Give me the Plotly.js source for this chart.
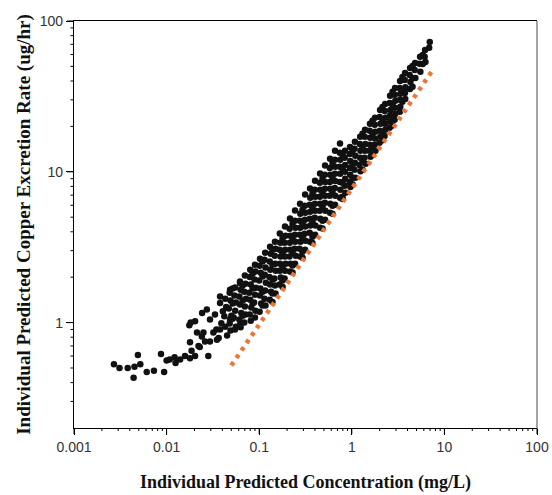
<!DOCTYPE html>
<html>
<head>
<meta charset="utf-8">
<script src="https://cdn.plot.ly/plotly-3.0.1.min.js"></script>
<style>html,body{margin:0;padding:0;background:#fff;}#chart{width:552px;height:495px;}</style>
</head>
<body>
<div id="chart"></div>
<script>
// Individual predicted concentration (mg/L)
const conc = [
  // low tail
  0.0027,0.0031,0.0038,0.0045,0.0049,0.0044,0.0052,0.0061,0.0073,0.0094,0.0087,0.0100,0.0108,0.0122,0.0140,0.0158,0.0179,0.0203,0.0125,0.0186,
  0.0179,0.0221,0.0282,0.0240,0.0294,0.0182,0.0203,0.0242,0.0294,0.0333,0.0250,0.0320,0.0378,0.0350,0.0390,0.0405,0.0378,0.0272,0.0213,0.0228,
  0.0260,0.0365,0.0345,0.0484,0.0548,0.0621,0.0378,0.0484,0.0621,0.0176,
  // main band
  0.043,0.044,0.042,0.043,0.045,
  0.048,0.049,0.047,0.050,0.048,0.049,
  0.055,0.054,0.056,0.055,0.053,0.056,
  0.062,0.063,0.061,0.062,0.064,0.061,0.063,
  0.070,0.071,0.069,0.072,0.070,0.071,0.069,
  0.080,0.079,0.081,0.078,0.080,0.082,0.079,0.081,
  0.090,0.091,0.089,0.092,0.090,0.088,0.091,0.090,
  0.102,0.101,0.104,0.100,0.103,0.102,0.105,0.101,
  0.116,0.114,0.117,0.115,0.118,0.116,0.114,0.117,
  0.131,0.133,0.130,0.132,0.129,0.131,0.134,0.130,
  0.148,0.150,0.147,0.149,0.151,0.146,0.148,0.150,
  0.167,0.169,0.166,0.170,0.168,0.167,0.171,0.166,
  0.190,0.192,0.188,0.191,0.189,0.193,0.190,0.188,
  0.215,0.213,0.217,0.214,0.216,0.212,0.218,0.215,
  0.244,0.242,0.246,0.243,0.245,0.241,0.247,0.244,
  0.276,0.278,0.274,0.277,0.275,0.279,0.273,0.276,
  0.313,0.311,0.315,0.312,0.314,0.310,0.316,0.313,
  0.354,0.356,0.352,0.355,0.353,0.357,0.351,0.354,
  0.401,0.399,0.403,0.400,0.402,0.398,0.404,0.401,
  0.454,0.452,0.456,0.453,0.455,0.451,0.457,0.454,
  0.514,0.511,0.517,0.513,0.516,0.512,0.518,0.514,
  0.582,0.579,0.585,0.580,0.584,0.578,0.586,0.582,
  0.659,0.656,0.662,0.657,0.661,0.655,0.663,0.659,
  0.746,0.742,0.750,0.744,0.748,0.741,0.752,0.746,
  0.845,0.840,0.850,0.843,0.848,0.838,0.852,
  0.957,0.950,0.963,0.955,0.960,0.948,0.965,
  1.08,1.07,1.09,1.08,1.07,1.09,
  1.23,1.22,1.24,1.23,1.21,1.24,
  1.39,1.38,1.40,1.39,1.37,1.41,
  1.57,1.56,1.58,1.57,1.55,1.59,
  1.78,1.77,1.79,1.78,1.76,1.80,
  2.02,2.00,2.04,2.01,2.03,1.99,
  2.29,2.27,2.31,2.28,2.30,2.26,
  2.59,2.57,2.61,2.58,2.60,2.56,
  2.93,2.91,2.95,2.92,2.94,2.90,
  3.32,3.29,3.35,3.31,3.34,3.30,
  3.76,3.73,3.79,3.75,3.78,
  4.26,4.22,4.30,4.24,
  4.82,4.78,4.86,
  5.46,5.40,5.50,
  6.18,6.12,6.24,
  6.95,6.85,
  // points along the lower edge, next to the reference line
  0.139,0.179,0.229,0.294,0.376,0.483,0.619,0.794,1.018,1.305,1.674,2.146,2.752,
  // in-between points of the band
  0.0516,0.0516,0.0516,
  0.0662,0.0662,0.0662,
  0.0849,0.0849,0.0849,
  0.1086,0.1086,0.1086,0.1086,
  0.139,0.139,0.139,0.139,
  0.1785,0.1785,0.1785,0.1785,
  0.229,0.229,0.229,0.229,
  0.2935,0.2935,0.2935,0.2935,
  0.3763,0.3763,0.3763,0.3763,
  0.4827,0.4827,0.4827,0.4827,
  0.619,0.619,0.619,0.619,
  0.7937,0.7937,0.7937,0.7937,
  1.018,1.018,1.018,
  1.305,1.305,1.305,
  1.674,1.674,1.674,
  2.146,2.146,2.146,
  2.752,2.752,2.752,
  3.52,3.52,3.52,
  4.53,4.53,4.53,
  5.84,5.84
];
// Individual predicted copper excretion rate (ug/hr)
const rate = [
  0.53,0.50,0.50,0.51,0.61,0.43,0.53,0.47,0.48,0.47,0.62,0.56,0.57,0.59,0.57,0.60,0.58,0.60,0.54,0.65,
  0.74,0.70,0.60,0.81,0.75,1.00,1.02,1.16,1.05,1.13,0.86,0.86,0.90,0.77,0.99,1.19,1.35,1.22,0.86,0.69,
  0.75,0.79,0.90,1.05,0.90,0.97,1.49,1.65,1.83,0.96,
  1.44,1.27,1.10,0.94,0.82,
  1.58,1.40,1.24,1.11,0.985,0.885,
  1.71,1.51,1.36,1.20,1.08,0.94,
  1.87,1.65,1.49,1.32,1.16,1.05,0.93,
  2.05,1.81,1.60,1.44,1.28,1.13,1.00,
  2.24,2.01,1.79,1.58,1.42,1.26,1.13,1.03,
  2.42,2.18,1.93,1.70,1.53,1.36,1.20,1.08,
  2.65,2.38,2.14,1.90,1.68,1.51,1.34,1.18,
  2.91,2.61,2.32,2.08,1.84,1.63,1.44,1.30,
  3.18,2.86,2.54,2.24,2.01,1.79,1.60,1.42,
  3.44,3.09,2.78,2.46,2.21,1.96,1.76,1.56,
  3.90,3.38,3.04,2.74,2.46,2.21,1.99,1.79,
  4.34,3.77,3.38,3.04,2.74,2.46,2.21,1.96,
  4.90,4.19,3.77,3.38,3.04,2.74,2.46,2.18,
  5.53,4.74,4.26,3.83,3.44,3.09,2.78,2.46,
  6.15,5.27,4.74,4.26,3.83,3.44,3.09,2.74,
  7.08,5.95,5.35,4.81,4.33,3.89,3.49,3.04,
  7.74,6.72,6.04,5.43,4.88,4.40,3.95,3.44,
  8.72,7.60,6.83,6.13,5.52,4.96,4.40,3.83,
  9.73,8.45,7.60,6.83,6.13,5.52,4.88,4.26,
  11.0,9.55,8.56,7.72,6.95,6.23,5.52,4.81,
  12.2,10.6,9.55,8.56,7.72,6.95,6.13,5.35,
  13.8,12.0,10.8,9.7,8.7,7.8,6.95,6.04,
  15.4,13.4,12.0,10.8,9.7,8.56,7.60,6.72,
  13.8,12.4,11.1,10.0,8.98,8.08,7.26,
  14.6,13.1,11.8,10.6,9.55,8.56,7.93,
  15.8,14.2,12.8,11.5,10.3,9.14,
  17.1,15.3,13.8,12.4,11.1,10.1,
  19.0,17.1,15.3,13.8,12.4,11.3,
  20.8,18.7,16.8,15.1,13.8,12.6,
  22.8,20.5,18.4,16.6,15.1,13.8,
  25.7,23.1,20.8,18.7,17.1,15.6,
  28.2,25.3,22.8,20.8,19.0,17.3,
  31.9,28.6,25.7,23.5,21.5,19.6,
  35.9,32.4,29.6,26.6,24.2,22.1,
  40.0,35.9,32.9,30.0,27.0,25.0,
  45.2,40.6,36.4,33.3,30.4,
  48.8,43.9,39.4,35.4,
  52.6,47.4,41.9,
  57.9,52.0,46.0,
  64.2,57.9,53.4,
  72.6,66.5,
  1.37,1.72,2.15,2.69,3.37,4.21,5.27,6.60,8.27,10.3,12.9,16.2,20.3,
  1.68,1.34,1.06,
  1.76,1.40,1.11,
  2.11,1.68,1.34,
  2.54,2.02,1.60,1.30,
  3.04,2.42,1.93,1.56,
  3.60,2.86,2.31,1.90,
  4.53,3.60,2.91,2.39,
  5.60,4.53,3.66,2.95,
  7.15,5.78,4.67,3.71,
  8.99,7.26,5.86,4.74,
  11.3,9.12,7.37,5.96,
  13.0,10.5,8.46,6.83,
  13.8,11.1,9.12,
  17.9,14.4,11.7,
  21.8,17.9,14.6,
  26.9,22.1,18.1,
  33.9,27.8,22.8,
  42.6,34.9,29.1,
  50.3,41.9,36.6,
  59.6,51.9
];
// Orange dotted reference line end points
const lineConc = [0.05, 7.6];
const lineRate = [0.52, 48];

const xTickVals = [0.001, 0.01, 0.1, 1, 10, 100];
const xTickText = ['0.001', '0.01', '0.1', '1', '10', '100'];
const xMinorVals = [0.002,0.003,0.004,0.005,0.006,0.007,0.008,0.009,
                    0.02,0.03,0.04,0.05,0.06,0.07,0.08,0.09,
                    0.2,0.3,0.4,0.5,0.6,0.7,0.8,0.9,
                    2,3,4,5,6,7,8,9, 20,30,40,50,60,70,80,90];
const yTickVals = [1, 10, 100];
const yTickText = ['1', '10', '100'];
const yMinorVals = [0.3,0.4,0.5,0.6,0.7,0.8,0.9, 2,3,4,5,6,7,8,9, 20,30,40,50,60,70,80,90];

const W = 552, H = 495;
const M = {l: 74, r: 15, t: 21, b: 67};
const plotW = W - M.l - M.r, plotH = H - M.t - M.b;
const xRange = [-3, 2];
const yRange = [Math.log10(0.2), 2];

// tick marks drawn as paper-referenced lines at the tick values
const xFrac = v => (Math.log10(v) - xRange[0]) / (xRange[1] - xRange[0]);
const yFrac = v => (Math.log10(v) - yRange[0]) / (yRange[1] - yRange[0]);
const tickShapes = [];
const addX = (vals, len) => vals.forEach(v => tickShapes.push({type: 'line', xref: 'paper', yref: 'paper',
  x0: xFrac(v), x1: xFrac(v), y0: 0, y1: -len / plotH, line: {color: '#000', width: 1}}));
const addY = (vals, len) => vals.forEach(v => tickShapes.push({type: 'line', xref: 'paper', yref: 'paper',
  x0: 0, x1: -len / plotW, y0: yFrac(v), y1: yFrac(v), line: {color: '#000', width: 1}}));
addX(xTickVals, 6); addX(xMinorVals, 3);
addY(yTickVals, 7); addY(yMinorVals, 3.5);

const traces = [
  {x: conc, y: rate, type: 'scatter', mode: 'markers',
   marker: {color: '#111111', size: 6.5, line: {width: 0}}, hoverinfo: 'skip'},
  {x: lineConc, y: lineRate, type: 'scatter', mode: 'lines',
   line: {color: '#E8783A', width: 4.5, dash: '4px,5px'}, hoverinfo: 'skip'}
];

const tickFont = {family: 'Liberation Sans, Arial, sans-serif', size: 14, color: '#333333'};

const layout = {
  width: W, height: H,
  margin: M,
  paper_bgcolor: '#ffffff', plot_bgcolor: '#ffffff',
  showlegend: false,
  xaxis: {
    type: 'log', range: xRange, autorange: false,
    tickmode: 'array', tickvals: xTickVals, ticktext: xTickText,
    ticks: 'outside', ticklen: 6, tickwidth: 1, tickcolor: '#000000',
    showgrid: false, zeroline: false,
    showline: true, linecolor: '#000', linewidth: 1.2, mirror: true,
    tickfont: tickFont,
    title: {text: '<b>Individual Predicted Concentration (mg/L)</b>',
            font: {family: 'Liberation Serif, Times New Roman, serif', size: 18, color: '#111'}, standoff: 21}
  },
  yaxis: {
    type: 'log', range: yRange, autorange: false,
    tickmode: 'array', tickvals: yTickVals, ticktext: yTickText,
    ticks: 'outside', ticklen: 7, tickwidth: 1, tickcolor: '#000000',
    showgrid: false, zeroline: false,
    showline: true, linecolor: '#000', linewidth: 1.2, mirror: false,
    tickfont: tickFont,
    title: {text: '<b>Individual Predicted Copper Excretion Rate (ug/hr)</b>',
            font: {family: 'Liberation Serif, Times New Roman, serif', size: 19, color: '#111'}, standoff: 4}
  },
  shapes: [
    {type: 'line', xref: 'paper', yref: 'paper', x0: 1, x1: 1, y0: 0, y1: 1,
     line: {color: '#666666', width: 1.2}}
  ].concat(tickShapes)
};

Plotly.newPlot('chart', traces, layout, {displayModeBar: false, staticPlot: true});
</script>
</body>
</html>
